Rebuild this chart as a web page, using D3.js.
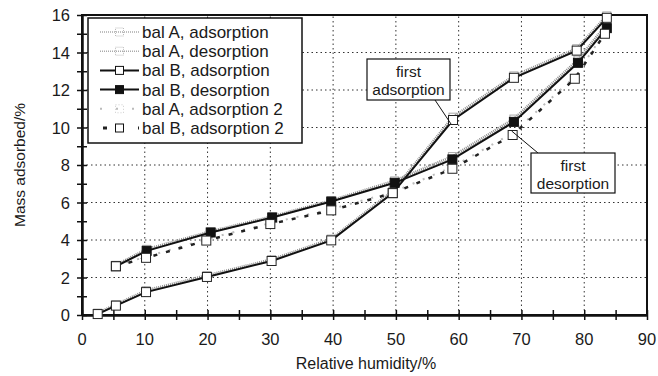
<!DOCTYPE html>
<html>
<head>
<meta charset="utf-8">
<script src="https://cdn.jsdelivr.net/npm/d3@7"></script>
<style>
  body { margin: 0; background: #fff; }
  text { font-family: "Liberation Sans", Arial, sans-serif; fill: #1a1a1a; }
</style>
</head>
<body>
<div id="chart"></div>
<script>
// readings
const adsRH = [2.5, 5.4, 10.2, 19.9, 30.2, 39.7, 49.5, 59.1, 68.8, 78.8, 83.6];
const balBAds = [0.05, 0.5, 1.22, 2.03, 2.88, 3.98, 6.5, 10.4, 12.65, 14.1, 15.85];
const balAAds = [0.1, 0.55, 1.3, 2.1, 2.95, 4.05, 6.6, 10.55, 12.75, 14.2, 15.95];

const desRH = [83.6, 79.0, 68.8, 59.0, 49.8, 39.7, 30.3, 20.5, 10.3, 5.4];
const balBDes = [15.3, 13.45, 10.3, 8.3, 7.05, 6.05, 5.2, 4.4, 3.42, 2.6];
const balADes = [15.5, 13.6, 10.45, 8.45, 7.15, 6.1, 5.25, 4.45, 3.5, 2.65];

const ads2RH = [5.4, 10.2, 19.8, 30.0, 39.7, 49.5, 59.0, 68.6, 78.5, 83.3];
const balBAds2 = [2.6, 3.05, 3.97, 4.85, 5.58, 6.5, 7.8, 9.6, 12.6, 15.0];
const balAAds2 = [2.65, 3.1, 4.05, 4.9, 5.65, 6.55, 7.9, 9.7, 12.7, 15.1];

const xTicks = [0, 10, 20, 30, 40, 50, 60, 70, 80, 90];
const yTicks = [0, 2, 4, 6, 8, 10, 12, 14, 16];

const legendLabels = [
  "bal A, adsorption",
  "bal A, desorption",
  "bal B, adsorption",
  "bal B, desorption",
  "bal A, adsorption 2",
  "bal B, adsorption 2"
];

const width = 658, height = 376;
const margin = { left: 82, right: 11, top: 15, bottom: 61 };

const svg = d3.select("#chart").append("svg")
  .attr("width", width)
  .attr("height", height);

const x = d3.scaleLinear().domain([0, 90]).range([margin.left, width - margin.right]);
const y = d3.scaleLinear().domain([0, 16]).range([height - margin.bottom, margin.top]);

// dotted grid
svg.append("g")
  .selectAll("line.gx")
  .data(xTicks.slice(1, -1))
  .join("line")
  .attr("x1", d => x(d)).attr("x2", d => x(d))
  .attr("y1", y(0)).attr("y2", y(16))
  .attr("stroke", "#333").attr("stroke-width", 1)
  .attr("stroke-dasharray", "1.5,3");
svg.append("g")
  .selectAll("line.gy")
  .data(yTicks.slice(1, -1))
  .join("line")
  .attr("x1", x(0)).attr("x2", x(90))
  .attr("y1", d => y(d)).attr("y2", d => y(d))
  .attr("stroke", "#333").attr("stroke-width", 1)
  .attr("stroke-dasharray", "1.5,3");

// frame
svg.append("rect")
  .attr("x", x(0)).attr("y", y(16))
  .attr("width", x(90) - x(0)).attr("height", y(0) - y(16))
  .attr("fill", "none").attr("stroke", "#111").attr("stroke-width", 2);

// axes
const xAxis = svg.append("g")
  .attr("transform", `translate(0,${y(0)})`)
  .call(d3.axisBottom(x).tickValues(d3.range(0, 91, 5)).tickSize(0).tickFormat(""));
xAxis.select(".domain").attr("stroke", "#111").attr("stroke-width", 2.5);
xAxis.selectAll(".tick").append("line")
  .attr("y1", -5).attr("y2", 5).attr("stroke", "#111").attr("stroke-width", 1.5);
svg.append("g")
  .selectAll("text")
  .data(xTicks)
  .join("text")
  .attr("x", d => x(d)).attr("y", y(0) + 30)
  .attr("text-anchor", "middle")
  .attr("font-size", 16.5)
  .text(d => d);

const yAxis = svg.append("g")
  .attr("transform", `translate(${x(0)},0)`)
  .call(d3.axisLeft(y).tickValues(d3.range(0, 17, 1)).tickSize(0).tickFormat(""));
yAxis.select(".domain").attr("stroke", "#111").attr("stroke-width", 2.5);
yAxis.selectAll(".tick").append("line")
  .attr("x1", -5).attr("x2", 5).attr("stroke", "#111").attr("stroke-width", 1.5);
svg.append("g")
  .selectAll("text")
  .data(yTicks)
  .join("text")
  .attr("x", x(0) - 12).attr("y", d => y(d) + 6)
  .attr("text-anchor", "end")
  .attr("font-size", 16.5)
  .text(d => d);

svg.append("text")
  .attr("x", 366).attr("y", 369)
  .attr("text-anchor", "middle").attr("font-size", 16)
  .text("Relative humidity/%");
svg.append("text")
  .attr("transform", `translate(25,${(y(0) + y(16)) / 2}) rotate(-90)`)
  .attr("text-anchor", "middle").attr("font-size", 15.5)
  .text("Mass adsorbed/%");

const line = d3.line().x(d => x(d[0])).y(d => y(d[1]));
const zip = (a, b) => a.map((v, i) => [v, b[i]]);

const plot = svg.append("g");

function drawSeries(rh, vals, opt) {
  const pts = zip(rh, vals);
  plot.append("path")
    .attr("d", line(pts))
    .attr("fill", "none")
    .attr("stroke", opt.stroke)
    .attr("stroke-width", opt.width)
    .attr("stroke-dasharray", opt.dash || null);
  if (opt.marker) {
    plot.append("g")
      .selectAll("rect")
      .data(pts)
      .join("rect")
      .attr("x", d => x(d[0]) - opt.size / 2)
      .attr("y", d => y(d[1]) - opt.size / 2)
      .attr("width", opt.size).attr("height", opt.size)
      .attr("fill", opt.fill)
      .attr("stroke", opt.markerStroke)
      .attr("stroke-width", 1);
  }
}

// bal A (faint grey, underneath)
drawSeries(adsRH, balAAds, { stroke: "#8a8a8a", width: 3, dash: "1,1", marker: true, size: 8, fill: "none", markerStroke: "#aaa" });
drawSeries(desRH, balADes, { stroke: "#8a8a8a", width: 3, dash: "1,1", marker: true, size: 8, fill: "none", markerStroke: "#aaa" });
drawSeries(ads2RH, balAAds2, { stroke: "#bbb", width: 2, dash: "2,9", marker: false });

// bal B
drawSeries(ads2RH, balBAds2, { stroke: "#222", width: 2.5, dash: "4,9", marker: false });
drawSeries(adsRH, balBAds, { stroke: "#111", width: 2, marker: false });
drawSeries(desRH, balBDes, { stroke: "#111", width: 2, marker: true, size: 9, fill: "#111", markerStroke: "#111" });
drawSeries(adsRH, balBAds, { stroke: "none", width: 0, marker: true, size: 9, fill: "#fff", markerStroke: "#222" });
drawSeries(ads2RH, balBAds2, { stroke: "none", width: 0, marker: true, size: 9, fill: "#fff", markerStroke: "#222" });

// callouts
function callout(lines, bx, by, bw, bh, tx, ty, lx, ly) {
  const g = svg.append("g");
  g.append("line")
    .attr("x1", lx).attr("y1", ly).attr("x2", tx).attr("y2", ty)
    .attr("stroke", "#111").attr("stroke-width", 1);
  g.append("rect")
    .attr("x", bx).attr("y", by).attr("width", bw).attr("height", bh)
    .attr("fill", "#fff").attr("stroke", "#111").attr("stroke-width", 1.2);
  lines.forEach((t, i) => {
    g.append("text")
      .attr("x", bx + bw / 2).attr("y", by + 18 + i * 18)
      .attr("text-anchor", "middle").attr("font-size", 15.5)
      .text(t);
  });
}
callout(["first", "adsorption"], 367, 59, 83, 41, x(adsRH[7]) - 2, y(balBAds[7]) + 4, 435, 100);
callout(["first", "desorption"], 531, 153, 84, 40, x(ads2RH[7]) - 1, y(balBAds2[7]) - 4, 538, 153);

// legend
const lg = svg.append("g");
lg.append("rect")
  .attr("x", 88).attr("y", 18).attr("width", 214).attr("height", 125)
  .attr("fill", "#fff").attr("stroke", "#111").attr("stroke-width", 1.5);
const rowY = i => 32 + i * 19.2;
const symX0 = 100, symX1 = 139;
legendLabels.forEach((lab, i) => {
  const cy = rowY(i);
  const mid = (symX0 + symX1) / 2;
  if (i === 0 || i === 1) {
    lg.append("line").attr("x1", symX0).attr("x2", symX1).attr("y1", cy).attr("y2", cy)
      .attr("stroke", "#aaa").attr("stroke-width", 1.5).attr("stroke-dasharray", "1,1");
    lg.append("rect").attr("x", mid - 4).attr("y", cy - 4).attr("width", 8).attr("height", 8)
      .attr("fill", "none").attr("stroke", "#bbb").attr("stroke-dasharray", "1,1");
  } else if (i === 2 || i === 3) {
    lg.append("line").attr("x1", symX0).attr("x2", symX1).attr("y1", cy).attr("y2", cy)
      .attr("stroke", "#111").attr("stroke-width", 2);
    lg.append("rect").attr("x", mid - 4).attr("y", cy - 4).attr("width", 8).attr("height", 8)
      .attr("fill", i === 2 ? "#fff" : "#111").attr("stroke", "#111");
  } else if (i === 4) {
    lg.append("line").attr("x1", symX0).attr("x2", symX1).attr("y1", cy).attr("y2", cy)
      .attr("stroke", "#bbb").attr("stroke-width", 2).attr("stroke-dasharray", "2,14");
    lg.append("rect").attr("x", mid - 4).attr("y", cy - 4).attr("width", 8).attr("height", 8)
      .attr("fill", "none").attr("stroke", "#ccc").attr("stroke-dasharray", "1,2");
  } else {
    lg.append("line").attr("x1", symX0 + 3).attr("x2", symX1).attr("y1", cy).attr("y2", cy)
      .attr("stroke", "#222").attr("stroke-width", 3).attr("stroke-dasharray", "4,31");
    lg.append("rect").attr("x", mid - 4).attr("y", cy - 4).attr("width", 8).attr("height", 8)
      .attr("fill", "#fff").attr("stroke", "#111");
  }
  lg.append("text")
    .attr("x", 142).attr("y", cy + 6)
    .attr("font-size", 17)
    .text(lab);
});
</script>
</body>
</html>
